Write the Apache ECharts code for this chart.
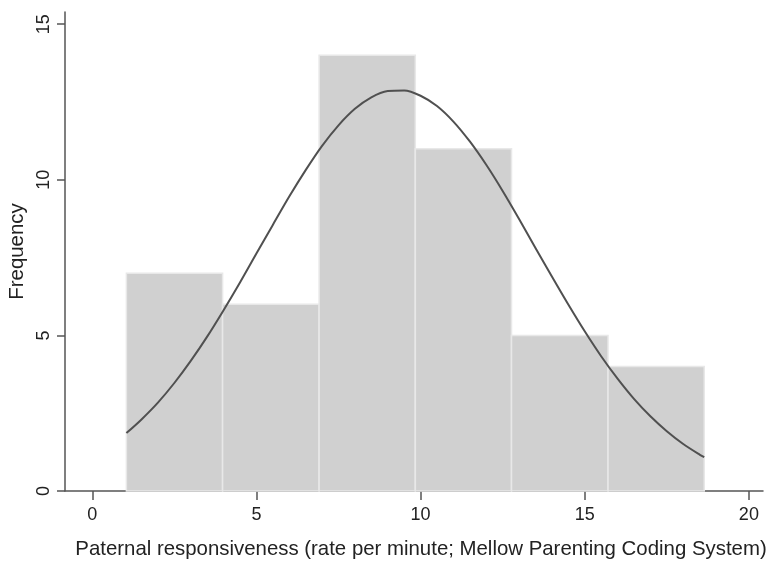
<!DOCTYPE html>
<html>
<head>
<meta charset="utf-8">
<script src="https://cdn.jsdelivr.net/npm/echarts@6/dist/echarts.min.js"></script>
<style>html,body{margin:0;padding:0;background:#fff;}#c{width:767px;height:568px;}</style>
</head>
<body>
<div id="c"></div>
<script>
// Histogram bins (edges) and frequencies
const binEdges = [1.04, 3.97, 6.91, 9.84, 12.77, 15.71, 18.64];
const frequencies = [7, 6, 14, 11, 5, 4];
// Fitted normal curve
const curveX = [1.04, 1.5, 2, 2.5, 3, 3.5, 4, 4.5, 5, 5.5, 6, 6.5, 7, 7.5, 8, 8.5, 9, 9.5, 10, 10.5, 11, 11.5, 12, 12.5, 13, 13.5, 14, 14.5, 15, 15.5, 16, 16.5, 17, 17.5, 18, 18.5, 18.64];
const curveY = [1.86, 2.30, 2.84, 3.47, 4.18, 4.96, 5.81, 6.70, 7.63, 8.55, 9.46, 10.31, 11.09, 11.75, 12.28, 12.65, 12.85, 12.87, 12.70, 12.37, 11.87, 11.23, 10.48, 9.64, 8.74, 7.81, 6.89, 5.99, 5.13, 4.33, 3.61, 2.96, 2.40, 1.92, 1.51, 1.17, 1.09];
const xTicks = [0, 5, 10, 15, 20];
const yTicks = [0, 5, 10, 15];
const xTitle = 'Paternal responsiveness (rate per minute; Mellow Parenting Coding System)';
const yTitle = 'Frequency';

const histData = frequencies.map((f, i) => [binEdges[i], binEdges[i + 1], f]);
const curveData = curveX.map((x, i) => [x, curveY[i]]);

const chart = echarts.init(document.getElementById('c'), null, {renderer: 'canvas'});
const FONT = 'Liberation Sans';
const axisCol = '#555';
chart.setOption({
  animation: false,
  backgroundColor: '#fff',
  grid: {left: 65, right: 4, top: 12, bottom: 77, containLabel: false, outerBoundsMode: 'none'},
  xAxis: {
    type: 'value', min: -0.83, max: 20.43,
    splitLine: {show: false},
    axisLine: {onZero: false, lineStyle: {color: axisCol, width: 1.5}},
    axisTick: {show: true, length: 9, lineStyle: {color: axisCol, width: 1.5}, customValues: xTicks},
    axisLabel: {customValues: xTicks, margin: 15, fontFamily: FONT, fontSize: 18, color: '#222'},
    name: xTitle, nameLocation: 'middle', nameGap: 48,
    nameTextStyle: {fontFamily: FONT, fontSize: 20.4, color: '#222', padding: [0, 0, 0, 14]}
  },
  yAxis: {
    type: 'value', min: 0, max: 15.39,
    splitLine: {show: false},
    axisLine: {show: true, onZero: false, lineStyle: {color: axisCol, width: 1.5}},
    axisTick: {show: true, length: 8, lineStyle: {color: axisCol, width: 1.5}, customValues: yTicks},
    axisLabel: {customValues: yTicks, rotate: 90, margin: 12, fontFamily: FONT, fontSize: 18, color: '#222'},
    name: yTitle, nameLocation: 'middle', nameGap: 36,
    nameTextStyle: {fontFamily: FONT, fontSize: 20.4, color: '#222'}
  },
  series: [
    {
      type: 'custom',
      data: histData,
      encode: {x: [0, 1], y: 2},
      renderItem: function (params, api) {
        const p0 = api.coord([api.value(0), 0]);
        const p1 = api.coord([api.value(1), api.value(2)]);
        return {
          type: 'rect',
          shape: {x: p0[0], y: p1[1], width: p1[0] - p0[0], height: p0[1] - p1[1]},
          style: {fill: '#d0d0d0', stroke: '#e8e8e8', lineWidth: 1.5}
        };
      },
      z: 1
    },
    {
      type: 'line',
      data: curveData,
      smooth: 0.3,
      showSymbol: false,
      lineStyle: {color: '#505050', width: 2},
      z: 3
    }
  ]
});
</script>
</body>
</html>
